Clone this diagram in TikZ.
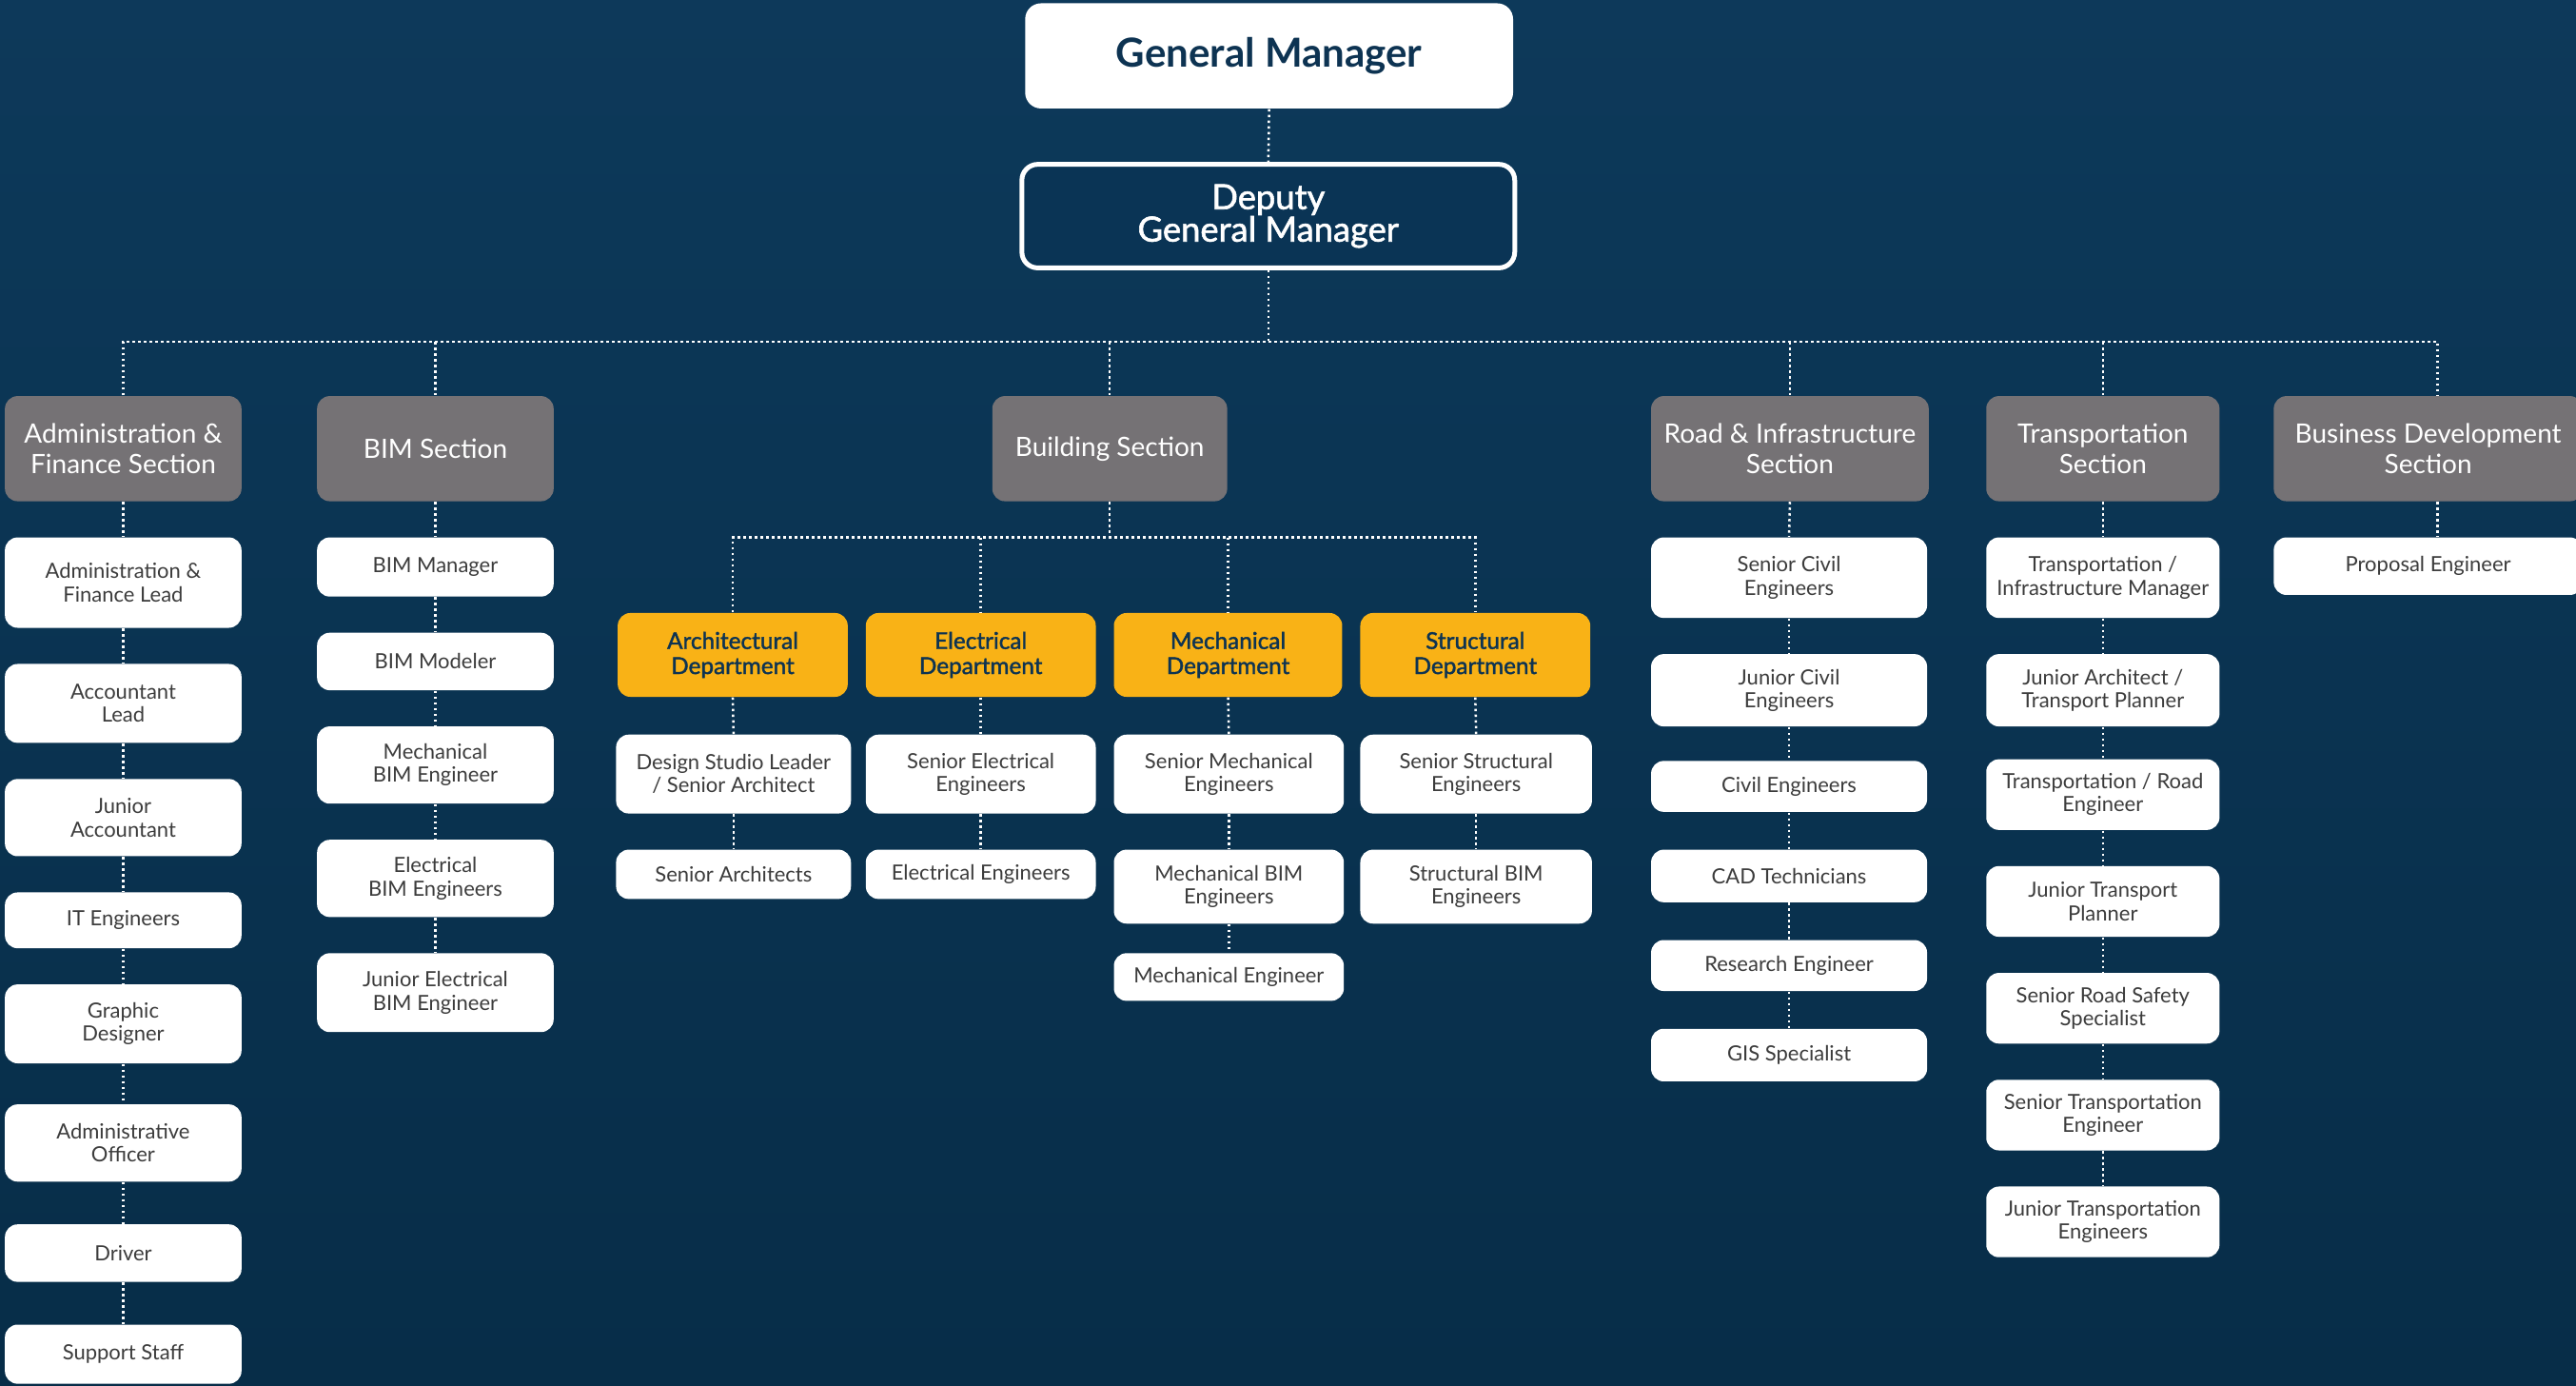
\documentclass[tikz,border=0pt]{standalone}
\usepackage{fontspec}
\setmainfont{Lato}
\newfontfamily\medfont[FakeBold=1.6]{Lato}
\definecolor{bgtop}{HTML}{0D395A}
\definecolor{bgbot}{HTML}{072D48}
\definecolor{bgnavy}{HTML}{0A3455}
\definecolor{secgray}{HTML}{757275}
\definecolor{deptor}{HTML}{F9B216}
\definecolor{navytxt}{HTML}{0D3352}
\definecolor{childtxt}{HTML}{3C3C3C}
\newcommand\obox[7]{\node[#2, minimum width={(#5-#3)*0.5179pt}, minimum height={(#6-#4)*0.5179pt}] (#1) at ({(#3+#5)/2},{(#4+#6)/2}) {#7};}
\begin{document}
\begin{tikzpicture}[x=0.5179pt,y=-0.5179pt,
  base/.style={rectangle, rounded corners=4pt, inner sep=0pt, align=center},
  child/.style={base, fill=white, text=childtxt, font=\fontsize{6.6}{7.3}\selectfont},
  sec/.style={base, fill=secgray, text=white, font=\fontsize{8.4}{9.4}\selectfont},
  dept/.style={base, fill=deptor, text=navytxt, font=\medfont\fontsize{7.3}{7.9}\selectfont},
  gmbox/.style={base, rounded corners=5pt, fill=white, text=navytxt, font=\bfseries\fontsize{12.6}{14}\selectfont},
  dgmbox/.style={base, rounded corners=5pt, fill=bgnavy, draw=white, line width=1.5pt, text=white, font=\medfont\fontsize{10.9}{10.2}\selectfont},
  conn/.style={draw=white, line width=0.75pt, dash pattern=on 0.75pt off 1.05pt}]
\useasboundingbox (0,0) rectangle (1568,843);
\shade[top color=bgtop, bottom color=bgbot] (0,0) rectangle (1568,843);

% top
\obox{gm}{gmbox}{624}{2}{921}{66}{General Manager}
\obox{dgm}{dgmbox}{622}{100}{922}{163}{Deputy\\General Manager}

% sections
\obox{adm}{sec}{3}{241}{147}{305}{Administration \&\\Finance Section}
\obox{bim}{sec}{193}{241}{337}{305}{BIM Section}
\obox{bld}{sec}{604}{241}{747}{305}{Building Section}
\obox{road}{sec}{1005}{241}{1174}{305}{Road \& Infrastructure\\Section}
\obox{trn}{sec}{1209}{241}{1351}{305}{Transportation\\Section}
\obox{biz}{sec}{1384}{241}{1572}{305}{Business Development\\Section}

% admin column
\obox{ad1}{child}{3}{327}{147}{382}{Administration \&\\Finance Lead}
\obox{ad2}{child}{3}{404}{147}{452}{Accountant\\Lead}
\obox{ad3}{child}{3}{474}{147}{521}{Junior\\Accountant}
\obox{ad4}{child}{3}{543}{147}{577}{IT Engineers}
\obox{ad5}{child}{3}{599}{147}{647}{Graphic\\Designer}
\obox{ad6}{child}{3}{672}{147}{719}{Administrative\\Officer}
\obox{ad7}{child}{3}{745}{147}{780}{Driver}
\obox{ad8}{child}{3}{806}{147}{842}{Support Staff}

% BIM column
\obox{bm1}{child}{193}{327}{337}{363}{BIM Manager}
\obox{bm2}{child}{193}{385}{337}{420}{BIM Modeler}
\obox{bm3}{child}{193}{442}{337}{489}{Mechanical\\BIM Engineer}
\obox{bm4}{child}{193}{511}{337}{558}{Electrical\\BIM Engineers}
\obox{bm5}{child}{193}{580}{337}{628}{Junior Electrical\\BIM Engineer}

% departments
\obox{arch}{dept}{376}{373}{516}{424}{Architectural\\Department}
\obox{elec}{dept}{527}{373}{667}{424}{Electrical\\Department}
\obox{mech}{dept}{678}{373}{817}{424}{Mechanical\\Department}
\obox{strc}{dept}{828}{373}{968}{424}{Structural\\Department}

\obox{ar1}{child}{375}{447}{518}{495}{Design Studio Leader\\/ Senior Architect}
\obox{ar2}{child}{375}{517}{518}{547}{Senior Architects}
\obox{el1}{child}{527}{447}{667}{495}{Senior Electrical\\Engineers}
\obox{el2}{child}{527}{517}{667}{547}{Electrical Engineers}
\obox{me1}{child}{678}{447}{818}{495}{Senior Mechanical\\Engineers}
\obox{me2}{child}{678}{517}{818}{562}{Mechanical BIM\\Engineers}
\obox{me3}{child}{678}{580}{818}{609}{Mechanical Engineer}
\obox{st1}{child}{828}{447}{969}{495}{Senior Structural\\Engineers}
\obox{st2}{child}{828}{517}{969}{562}{Structural BIM\\Engineers}

% road column
\obox{rd1}{child}{1005}{327}{1173}{376}{Senior Civil\\Engineers}
\obox{rd2}{child}{1005}{398}{1173}{442}{Junior Civil\\Engineers}
\obox{rd3}{child}{1005}{463}{1173}{494}{Civil Engineers}
\obox{rd4}{child}{1005}{517}{1173}{549}{CAD Technicians}
\obox{rd5}{child}{1005}{572}{1173}{603}{Research Engineer}
\obox{rd6}{child}{1005}{626}{1173}{658}{GIS Specialist}

% transportation column
\obox{tr1}{child}{1209}{327}{1351}{376}{Transportation /\\Infrastructure Manager}
\obox{tr2}{child}{1209}{398}{1351}{442}{Junior Architect /\\Transport Planner}
\obox{tr3}{child}{1209}{462}{1351}{505}{Transportation / Road\\Engineer}
\obox{tr4}{child}{1209}{527}{1351}{570}{Junior Transport\\Planner}
\obox{tr5}{child}{1209}{592}{1351}{635}{Senior Road Safety\\Specialist}
\obox{tr6}{child}{1209}{657}{1351}{700}{Senior Transportation\\Engineer}
\obox{tr7}{child}{1209}{722}{1351}{765}{Junior Transportation\\Engineers}

% business
\obox{bz1}{child}{1384}{327}{1572}{362}{Proposal Engineer}

% connectors
\coordinate (busy) at (0,208);
\coordinate (subbus) at (0,327);
\draw[conn] (gm.south) -- (dgm.north);
\draw[conn] (dgm.south) -- (dgm.south |- busy);
\draw[conn] (adm.north) -- (adm.north |- busy) -- ([xshift=3pt]biz.north |- busy) -- ([xshift=3pt]biz.north);
\foreach \s in {bim,bld,road,trn} \draw[conn] (\s.north |- busy) -- (\s.north);
\draw[conn] (bld.south) -- (bld.south |- subbus);
\draw[conn] (arch.north) -- (arch.north |- subbus) -- (strc.north |- subbus) -- (strc.north);
\foreach \s in {elec,mech} \draw[conn] (\s.north |- subbus) -- (\s.north);
\foreach \a/\b in {adm/ad1,ad1/ad2,ad2/ad3,ad3/ad4,ad4/ad5,ad5/ad6,ad6/ad7,ad7/ad8,
  bim/bm1,bm1/bm2,bm2/bm3,bm3/bm4,bm4/bm5,
  arch/ar1,ar1/ar2,elec/el1,el1/el2,mech/me1,me1/me2,me2/me3,strc/st1,st1/st2,
  road/rd1,rd1/rd2,rd2/rd3,rd3/rd4,rd4/rd5,rd5/rd6,
  trn/tr1,tr1/tr2,tr2/tr3,tr3/tr4,tr4/tr5,tr5/tr6,tr6/tr7}
  \draw[conn] (\a.south) -- (\b.north);
\draw[conn] ([xshift=3pt]biz.south) -- ([xshift=3pt]bz1.north);
\end{tikzpicture}
\end{document}
